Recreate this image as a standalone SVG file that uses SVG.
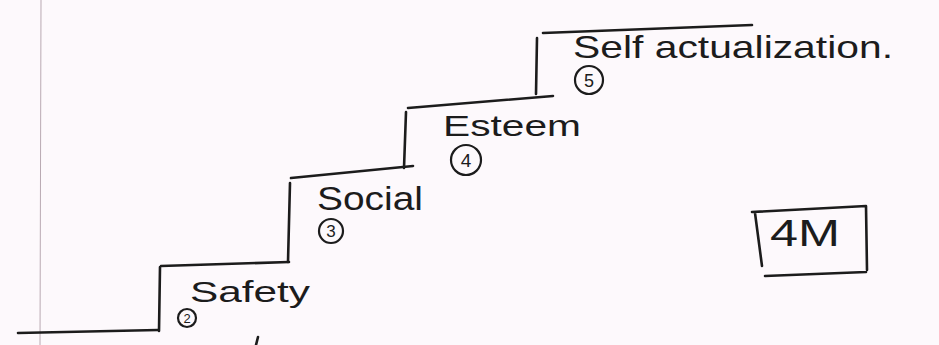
<svg xmlns="http://www.w3.org/2000/svg" width="939" height="345" viewBox="0 0 939 345">
<style>
.ink{fill:none;stroke:#1c1c1c;stroke-width:2.6;stroke-linecap:round;stroke-linejoin:round}
.ring{fill:none;stroke:#1c1c1c;stroke-width:2.2}
.lbl{font-family:"Liberation Sans",Arial,sans-serif;fill:#1c1c1c}
.num{font-family:"Liberation Sans",Arial,sans-serif;fill:#1c1c1c;text-anchor:middle}
</style>
<rect width="939" height="345" fill="#fdf9fc"/>
<line x1="41" y1="0" x2="40" y2="345" stroke="#b9a9b2" stroke-width="1"/>
<g id="connectors">
<path class="ink" d="M18,333 L158,330"/>
<path class="ink" d="M159,331 L160,267 M161,266 L289,262"/>
<path class="ink" d="M288,262 L290,183 M291,178 L413,166"/>
<path class="ink" d="M404,168 L406,112 M408,108 L553,96"/>
<path class="ink" d="M536,94 L537,38 M543,33 L752,25"/>
<path class="ink" d="M256,345 L258,337" stroke-width="2"/>
</g>
<g id="safety">
<text class="lbl" x="190" y="302" font-size="30" textLength="120" lengthAdjust="spacingAndGlyphs">Safety</text>
<circle class="ring" cx="187" cy="318" r="9"/>
<text class="num" x="187" y="323" font-size="13">2</text>
</g>
<g id="social">
<text class="lbl" x="317" y="210" font-size="34" textLength="106" lengthAdjust="spacingAndGlyphs">Social</text>
<circle class="ring" cx="331" cy="231" r="12"/>
<text class="num" x="331" y="237" font-size="17">3</text>
</g>
<g id="esteem">
<text class="lbl" x="443" y="136" font-size="30" textLength="138" lengthAdjust="spacingAndGlyphs">Esteem</text>
<circle class="ring" cx="466" cy="160" r="15"/>
<text class="num" x="466" y="167" font-size="19">4</text>
</g>
<g id="self-actualization">
<text class="lbl" x="573" y="58" font-size="32" textLength="320" lengthAdjust="spacingAndGlyphs">Self actualization.</text>
<circle class="ring" cx="589" cy="80" r="14"/>
<text class="num" x="589" y="87" font-size="18">5</text>
</g>
<g id="4m">
<path class="ink" d="M752,212 L866,206 L867,270 M765,276 L866,272 M755,213 L762,266"/>
<text class="lbl" x="770" y="246" font-size="36" textLength="70" lengthAdjust="spacingAndGlyphs">4M</text>
</g>
</svg>
